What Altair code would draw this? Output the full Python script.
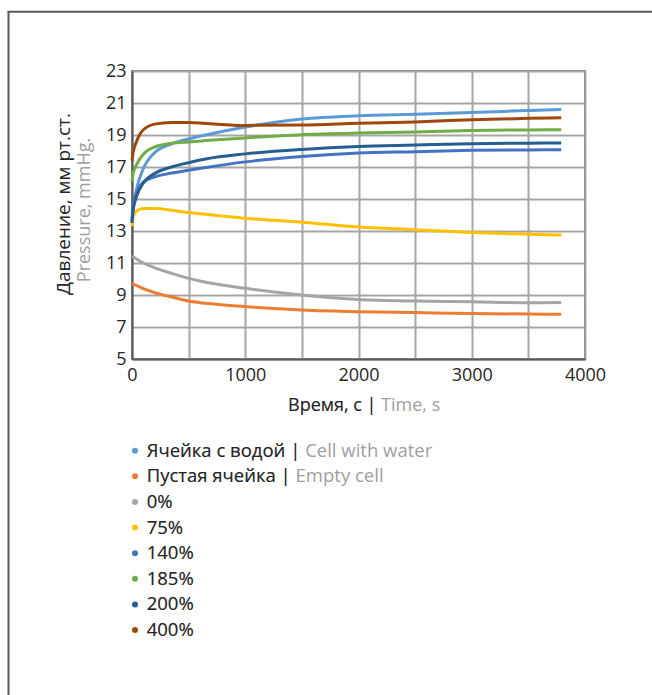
import altair as alt
import pandas as pd

FONT = "Open Sans"

times = [0, 10, 40, 100, 200, 350, 500, 650, 1000, 1500, 2000, 2500, 3000, 3500, 3790]

series = ["water", "empty", "0%", "75%", "140%", "185%", "200%", "400%"]
labels_ru = ["Ячейка с водой |", "Пустая ячейка |", "0%", "75%", "140%", "185%", "200%", "400%"]
labels_en = ["Cell with water", "Empty cell", "", "", "", "", "", ""]
colors = ["#5B9BD5", "#ED7D31", "#A5A5A5", "#FFC000", "#4472C4", "#70AD47", "#255E91", "#9E480E"]

v_water = [13.6, 14.3, 15.6, 16.9, 17.9, 18.45, 18.75, 19.0, 19.5, 20.0, 20.2, 20.3, 20.41, 20.53, 20.6]
v_empty = [9.7, 9.68, 9.6, 9.4, 9.15, 8.88, 8.62, 8.48, 8.28, 8.07, 7.96, 7.9, 7.84, 7.81, 7.8]
v_0 = [11.42, 11.38, 11.25, 11.0, 10.7, 10.35, 10.04, 9.8, 9.42, 9.0, 8.72, 8.62, 8.58, 8.52, 8.53]
v_75 = [13.3, 13.9, 14.25, 14.4, 14.4, 14.3, 14.15, 14.05, 13.8, 13.55, 13.25, 13.08, 12.9, 12.8, 12.75]
v_140 = [13.7, 14.6, 15.4, 16.05, 16.38, 16.62, 16.8, 16.97, 17.32, 17.66, 17.88, 17.96, 18.04, 18.07, 18.08]
v_185 = [16.1, 16.6, 17.15, 17.8, 18.25, 18.48, 18.57, 18.65, 18.82, 19.02, 19.12, 19.18, 19.28, 19.32, 19.33]
v_200 = [13.5, 14.3, 15.15, 16.0, 16.6, 17.0, 17.27, 17.5, 17.82, 18.1, 18.28, 18.37, 18.46, 18.49, 18.5]
v_400 = [17.4, 17.9, 18.6, 19.33, 19.68, 19.78, 19.78, 19.72, 19.6, 19.62, 19.73, 19.82, 19.95, 20.04, 20.08]

values = [v_water, v_empty, v_0, v_75, v_140, v_185, v_200, v_400]

x_ticks = list(range(0, 4001, 500))
y_ticks = list(range(5, 24, 2))

x_title_ru = "Время, с |"
x_title_en = "Время, с | Time, s"
y_title_ru = "Давление, мм рт.ст."
y_title_en = "Pressure, mmHg."

rows = []
for s, vals in zip(series, values):
    for t, v in zip(times, vals):
        rows.append({"series": s, "t": t, "v": v})
df = pd.DataFrame(rows)

legend_df = pd.DataFrame({
    "series": series,
    "ru": labels_ru,
    "full": [r + (" " + e if e else "") for r, e in zip(labels_ru, labels_en)],
})

W, H = 453, 288
PAD_L, PAD_T = 132, 71
TOTAL_W, TOTAL_H = 652, 695

color_scale = alt.Scale(domain=series, range=colors)

lines = alt.Chart(df).mark_line(strokeWidth=3, interpolate="monotone").encode(
    x=alt.X("t:Q", scale=alt.Scale(domain=[0, 4000], nice=False),
            axis=alt.Axis(values=x_ticks, format="d",
                          labelExpr="datum.value % 1000 === 0 ? datum.label : ''",
                          title=None, ticks=False, labelPadding=7, labelFlush=False,
                          labelFontSize=18, labelFont=FONT, labelColor="#262626",
                          grid=True, gridColor="#A6A6A6", gridWidth=2,
                          domainColor="#595959", domainWidth=2)),
    y=alt.Y("v:Q", scale=alt.Scale(domain=[5, 23], nice=False, zero=False),
            axis=alt.Axis(values=y_ticks, title=None, ticks=False, labelPadding=6,
                          labelFlush=False,
                          labelFontSize=18, labelFont=FONT, labelColor="#262626",
                          grid=True, gridColor="#A6A6A6", gridWidth=2,
                          domainColor="#595959", domainWidth=2)),
    color=alt.Color("series:N", scale=color_scale, legend=None),
    order=alt.Order("t:Q"),
)

leg_y = alt.Y("series:N", sort=series,
              scale=alt.Scale(type="point", range=[379.7, 559], padding=0), axis=None)

LEG_FS = 18.5
leg_dots = alt.Chart(legend_df).mark_circle(size=36, opacity=1).encode(
    x=alt.value(3), y=leg_y,
    color=alt.Color("series:N", scale=color_scale, legend=None),
)
leg_text_en = alt.Chart(legend_df).mark_text(
    align="left", baseline="middle", fontSize=LEG_FS, font=FONT, color="#A0A0A0"
).encode(x=alt.value(14.7), y=leg_y, text="full:N")
leg_text_ru = alt.Chart(legend_df).mark_text(
    align="left", baseline="middle", fontSize=LEG_FS, font=FONT, color="#262626"
).encode(x=alt.value(14.7), y=leg_y, text="ru:N")

tdf = pd.DataFrame({"a": [0]})
xt_en = alt.Chart(tdf).mark_text(align="left", baseline="middle", fontSize=18, font=FONT,
                                 color="#A0A0A0").encode(
    x=alt.value(156), y=alt.value(335), text=alt.value(x_title_en))
xt_ru = alt.Chart(tdf).mark_text(align="left", baseline="middle", fontSize=18, font=FONT,
                                 color="#262626").encode(
    x=alt.value(156), y=alt.value(335), text=alt.value(x_title_ru))
yt_ru = alt.Chart(tdf).mark_text(align="center", baseline="middle", fontSize=19, font=FONT,
                                 color="#262626", angle=270).encode(
    x=alt.value(-68), y=alt.value(133), text=alt.value(y_title_ru))
yt_en = alt.Chart(tdf).mark_text(align="center", baseline="middle", fontSize=18, font=FONT,
                                 color="#A0A0A0", angle=270).encode(
    x=alt.value(-47), y=alt.value(139), text=alt.value(y_title_en))

frame_left = alt.Chart(tdf).mark_rule(color="#595959", strokeWidth=2).encode(
    x=alt.value(-123.5), y=alt.value(-59.3), y2=alt.value(TOTAL_H - PAD_T))
frame_top = alt.Chart(tdf).mark_rule(color="#595959", strokeWidth=2).encode(
    x=alt.value(-124.5), x2=alt.value(TOTAL_W - PAD_L), y=alt.value(-59.3))

chart = alt.layer(
    lines, leg_dots, leg_text_en, leg_text_ru, xt_en, xt_ru, yt_ru, yt_en, frame_left, frame_top
).resolve_scale(y="independent").properties(
    width=W, height=H,
    autosize=alt.AutoSizeParams(type="none"),
    padding={"left": PAD_L, "top": PAD_T, "right": TOTAL_W - PAD_L - W, "bottom": TOTAL_H - PAD_T - H},
    background="white",
).configure_view(stroke="#808080", strokeWidth=2)

chart.save("out.html", embed_options={"renderer": "svg", "actions": False})
